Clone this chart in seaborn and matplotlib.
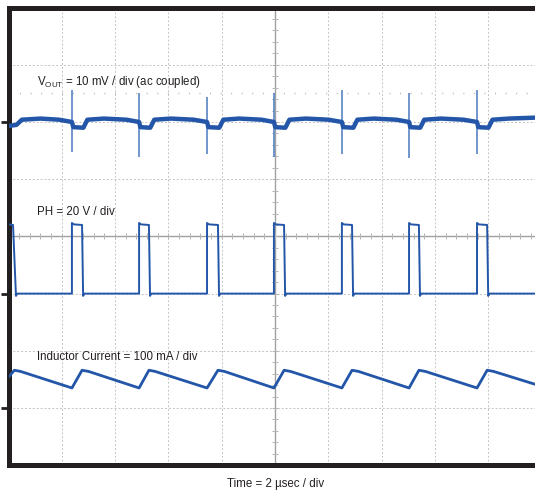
import numpy as np
import pandas as pd
import matplotlib
matplotlib.use('Agg')
import matplotlib.pyplot as plt
import seaborn as sns
from matplotlib import font_manager

# scope capture: 2 us/div, 10 x 8 divisions
names = {f.name for f in font_manager.fontManager.ttflist}
if 'Liberation Sans Narrow' in names:
    FONT, FS = 'Liberation Sans Narrow', 9
else:
    FONT, FS = 'Liberation Sans', 8.3

sns.set_style('white')
plt.rcParams['font.family'] = [FONT, 'DejaVu Sans']
plt.rcParams['mathtext.fontset'] = 'custom'
plt.rcParams['mathtext.rm'] = FONT

# switching instants (us)
sw_on = [2.38, 4.90, 7.45, 9.96, 12.51, 15.03, 17.58]

# PH node (V)
ph_t = [0, 0.17, 0.28, 0.33,
        2.38, 2.38, 2.45, 2.76, 2.80, 2.85,
        4.90, 4.90, 4.97, 5.27, 5.31, 5.36,
        7.45, 7.45, 7.52, 7.86, 7.90, 7.95,
        9.96, 9.96, 10.03, 10.34, 10.38, 10.43,
        12.51, 12.51, 12.58, 12.89, 12.93, 12.98,
        15.03, 15.03, 15.10, 15.40, 15.44, 15.49,
        17.58, 17.58, 17.65, 17.96, 18.00, 18.05, 20.0]
ph_v = [24.2, 24.0, -0.8, 0,
        0, 24.7, 24.2, 24.0, -0.8, 0,
        0, 24.7, 24.2, 24.0, -0.8, 0,
        0, 24.7, 24.2, 24.0, -0.8, 0,
        0, 24.7, 24.2, 24.0, -0.8, 0,
        0, 24.7, 24.2, 24.0, -0.8, 0,
        0, 24.7, 24.2, 24.0, -0.8, 0,
        0, 24.7, 24.2, 24.0, -0.8, 0, 0]

# inductor current (mA)
il_t = [0, 0.22, 0.45, 2.38, 2.76, 3.00, 4.90, 5.27, 5.50, 7.45, 7.86, 8.10,
        9.96, 10.34, 10.58, 12.51, 12.89, 13.13, 15.03, 15.40, 15.64,
        17.58, 17.96, 18.20, 20.0]
il_ma = [54, 66, 64, 35, 66, 64, 35, 66, 64, 35, 66, 64,
         35, 66, 64, 35, 66, 64, 35, 66, 64,
         35, 66, 64, 38]

# output ripple (mV, ac coupled)
vout_t = [0, 0.30, 0.50, 1.20, 1.90,
          2.38, 2.43, 2.81, 2.96, 3.58, 4.43,
          4.90, 4.95, 5.32, 5.47, 6.10, 6.95,
          7.45, 7.50, 7.91, 8.06, 8.65, 9.50,
          9.96, 10.01, 10.39, 10.54, 11.16, 12.01,
          12.51, 12.56, 12.94, 13.09, 13.71, 14.56,
          15.03, 15.08, 15.45, 15.60, 16.23, 17.08,
          17.58, 17.63, 18.01, 18.16, 18.78, 20.0]
vout_mv = [-0.7, -0.5, 0.4, 0.6, 0.4,
           0, -0.9, -1.0, 0.4, 0.6, 0.4,
           0, -0.9, -1.0, 0.4, 0.6, 0.4,
           0, -0.9, -1.0, 0.4, 0.6, 0.4,
           0, -0.9, -1.0, 0.4, 0.6, 0.4,
           0, -0.9, -1.0, 0.4, 0.6, 0.4,
           0, -0.9, -1.0, 0.4, 0.6, 0.4,
           0, -0.9, -1.0, 0.4, 0.6, 0.8]
spike_hi = [5.6, 5.1, 4.4, 5.1, 5.6, 5.1, 5.6]
spike_lo = [-5.2, -6.1, -5.6, -6.1, -5.6, -6.3, -5.6]

# channel ground positions (div) and scales (per div)
VOUT_POS, VOUT_SCALE = 2.0, 10
PH_POS, PH_SCALE = -1.0, 20
IL_POS, IL_SCALE = -3.0, 100

BLUE = '#2356a8'
INK = '#231f20'

vout_df = pd.DataFrame({'t': vout_t, 'y': VOUT_POS + np.array(vout_mv) / VOUT_SCALE})
ph_df = pd.DataFrame({'t': ph_t, 'y': PH_POS + np.array(ph_v) / PH_SCALE})
il_df = pd.DataFrame({'t': il_t, 'y': IL_POS + np.array(il_ma) / IL_SCALE})

fig = plt.figure(figsize=(5.35, 4.91), dpi=100)
ax = fig.add_axes([8.5 / 535, 25.8 / 491, 533 / 535, 457.6 / 491])

ax.set_xlim(0, 20)
ax.set_ylim(-4, 4)
ax.set_xticks(np.arange(0, 21, 2))
ax.set_yticks(np.arange(-4, 5, 1))
ax.grid(True, color='#c4c4c4', linestyle=(0, (2, 2)), linewidth=0.7)
ax.tick_params(length=0, labelbottom=False, labelleft=False)
ax.axhline(0, color='#a0a0a0', lw=1.0, zorder=1)
ax.axvline(10, color='#a0a0a0', lw=1.0, zorder=1)
ax.plot(np.arange(0, 20.01, 0.4), np.zeros(51), ls='none', marker='|',
        ms=4, mew=0.7, color='#b4b4b4', zorder=1)
ax.plot(np.full(41, 10.0), np.arange(-4, 4.01, 0.2), ls='none', marker='_',
        ms=4, mew=0.7, color='#b4b4b4', zorder=1)
ax.axhline(2.51, color='#b0b0b0', lw=1.0, linestyle=(0, (0.7, 6.9)), zorder=1)

ax.vlines(sw_on, VOUT_POS + np.array(spike_lo) / VOUT_SCALE,
          VOUT_POS + np.array(spike_hi) / VOUT_SCALE, color='#4a78c0', lw=1.1, zorder=2)
sns.lineplot(data=vout_df, x='t', y='y', sort=False, estimator=None, ax=ax,
             color=BLUE, lw=3.2, zorder=3)
sns.lineplot(data=ph_df, x='t', y='y', sort=False, estimator=None, ax=ax,
             color=BLUE, lw=1.4, zorder=3)
sns.lineplot(data=il_df, x='t', y='y', sort=False, estimator=None, ax=ax,
             color=BLUE, lw=2.0, zorder=3)
ax.set_xlabel('')
ax.set_ylabel('')

# ground markers on the left edge
ax.plot([-0.17] * 3, [VOUT_POS, PH_POS, IL_POS], ls='none', marker='_', ms=5,
        mew=2, color=INK, clip_on=False)

for s in ['top', 'left', 'bottom']:
    ax.spines[s].set_color(INK)
    ax.spines[s].set_linewidth(3.6)
    ax.spines[s].set_capstyle('projecting')
ax.spines['right'].set_visible(False)

ax.text(1.07, 2.64, r'V$_{\rm OUT}$ = 10 mV / div (ac coupled)', fontsize=FS,
        color=INK, va='baseline')
ax.text(1.07, 0.376, 'PH = 20 V / div', fontsize=FS, color=INK, va='baseline')
ax.text(1.07, -2.159, 'Inductor Current = 100 mA / div', fontsize=FS,
        color=INK, va='baseline')
fig.text(275.5 / 535, 3.5 / 491, 'Time = 2 µsec / div', fontsize=FS,
         color=INK, ha='center', va='baseline')

fig.savefig('out.png', dpi=100)
